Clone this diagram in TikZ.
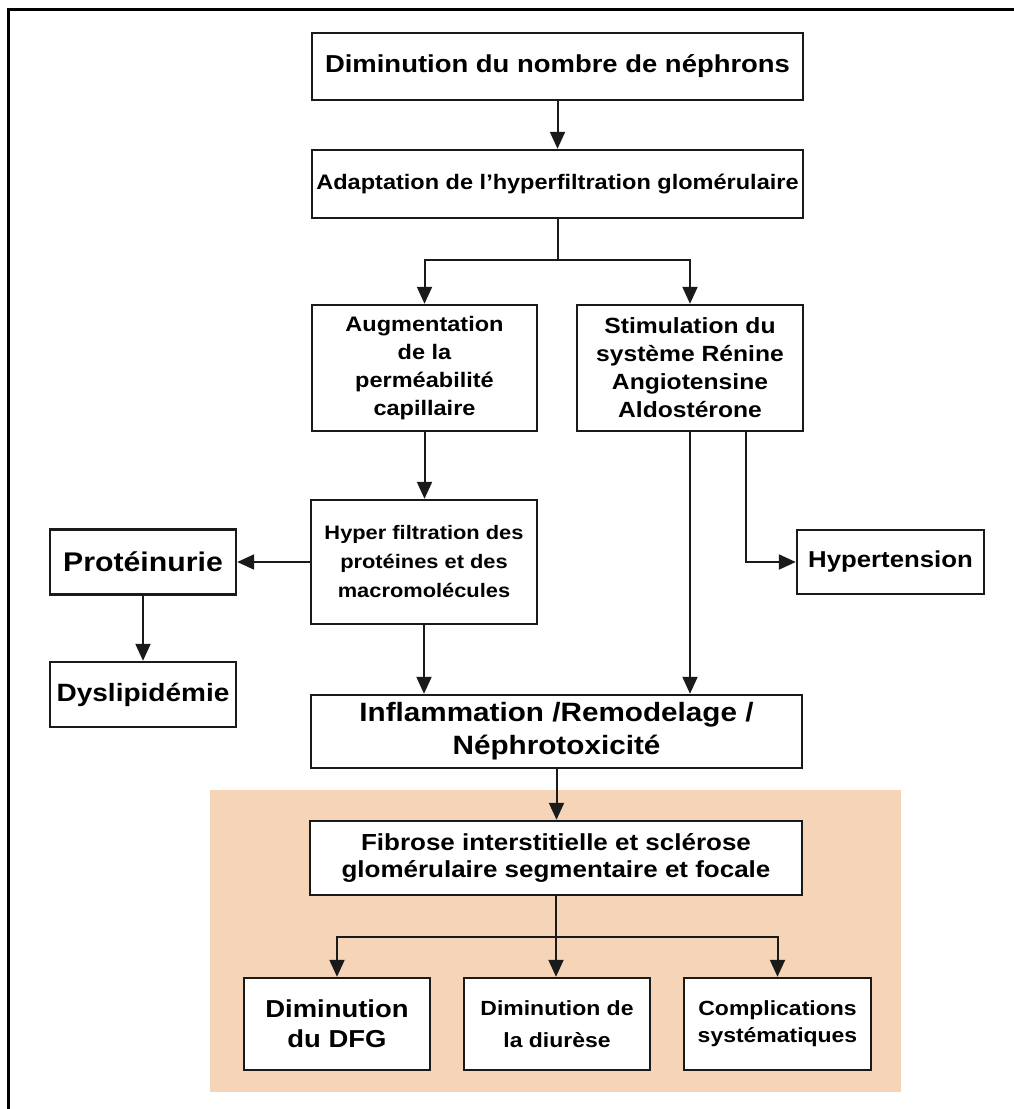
\documentclass[tikz,border=0pt]{standalone}
\usepackage{fontspec}
\setmainfont{Liberation Sans}[FakeStretch=1.12]
\usetikzlibrary{arrows.meta}
\definecolor{peach}{RGB}{245,212,184}
\definecolor{ink}{RGB}{26,26,26}
\newcommand{\fs}[2]{\fontsize{#1}{#2}\selectfont\bfseries}
\begin{document}
\begin{tikzpicture}[x=1pt,y=-1pt,
  box/.style={draw=ink, line width=2.4pt, fill=white, align=center,
    inner sep=0pt, text=black},
  arr/.style={draw=ink, line width=2pt,
    -{Triangle[length=17pt,width=15pt]}},
  link/.style={draw=ink, line width=2pt}]
\useasboundingbox (0,0) rectangle (1014,1109);
% frame
\draw[line width=3pt, black] (8,1109) -- (8,9) -- (1014,9);
% shaded consequences panel
\fill[peach] (210,790) rectangle (901,1092);

% boxes
\node[box, minimum width=491, minimum height=67, font=\fs{24.5}{28}] (b1) at (557.5,66.5)
  {Diminution du nombre de néphrons};
\node[box, minimum width=491, minimum height=68, font=\fs{21}{25}] (b2) at (557.5,184)
  {Adaptation de l’hyperfiltration glomérulaire};
\node[box, minimum width=225, minimum height=126, font=\fs{21}{28}] (b3) at (424.5,368)
  {Augmentation\\de la\\perméabilité\\capillaire};
\node[box, minimum width=226, minimum height=126, font=\fs{22}{28}] (b4) at (690,368)
  {Stimulation du\\système Rénine\\Angiotensine\\Aldostérone};
\node[box, minimum width=226, minimum height=124, font=\fs{19.5}{29}] (b5) at (424,562)
  {Hyper filtration des\\protéines et des\\macromolécules};
\node[box, minimum width=186, minimum height=65, font=\fs{27}{30}] (prot) at (143,562)
  {Protéinurie};
\node[box, minimum width=186, minimum height=65, font=\fs{25}{30}] (dys) at (143,694.5)
  {Dyslipidémie};
\node[box, minimum width=187, minimum height=64, font=\fs{23}{28}] (hyp) at (890.5,562)
  {Hypertension};
\node[box, minimum width=491, minimum height=73, font=\fs{26.5}{33}] (infl) at (556.5,731.5)
  {Inflammation /Remodelage /\\Néphrotoxicité};
\node[box, minimum width=492, minimum height=74, font=\fs{23.2}{27}] (fib) at (556,858)
  {Fibrose interstitielle et sclérose\\glomérulaire segmentaire et focale};
\node[box, minimum width=186, minimum height=92, font=\fs{24.5}{30}] (dfg) at (337,1024)
  {Diminution\\du DFG};
\node[box, minimum width=186, minimum height=92, font=\fs{20.5}{32}] (diu) at (557,1024)
  {Diminution de\\la diurèse};
\node[box, minimum width=187, minimum height=92, font=\fs{20.5}{27}] (comp) at (777.5,1024)
  {Complications\\systématiques};

% branching points
\coordinate (split1) at (557.5,260);
\coordinate (split2) at (556,937);
\coordinate (raasout) at (746,431);

% connectors
\draw[arr] (b1) -- (b2);
\draw[link] (b2.south) -- (split1);
\draw[arr] (split1) -| (b3.north);
\draw[arr] (split1) -| (b4.north);
\draw[arr] (b3.south) -- (b3.south |- b5.north);
\draw[arr] (b5.west) -- (b5.west -| prot.east);
\draw[arr] (prot) -- (dys);
\draw[arr] (raasout) |- (hyp.west);
\draw[arr] (b4.south) -- (b4.south |- infl.north);
\draw[arr] (b5.south) -- (b5.south |- infl.north);
\draw[arr] (infl.south) -- (infl.south |- fib.north);
\draw[link] (fib.south) -- (split2);
\draw[arr] (split2) -| (dfg.north);
\draw[arr] (split2) -- (split2 |- diu.north);
\draw[arr] (split2) -| (comp.north);
\end{tikzpicture}
\end{document}
